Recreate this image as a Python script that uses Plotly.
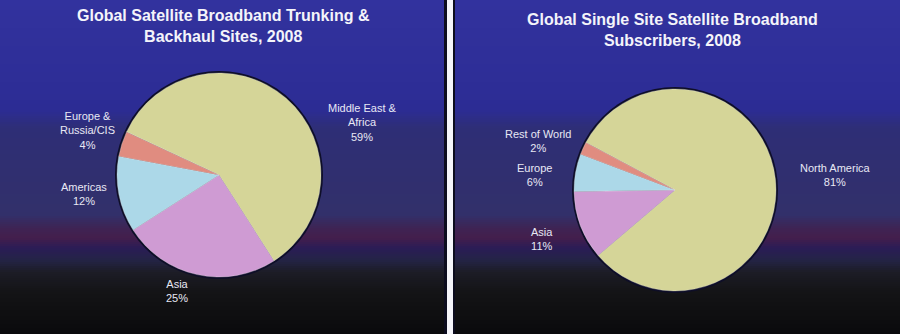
import plotly.graph_objects as go

# ---------------- data ----------------
left_title = "Global Satellite Broadband Trunking &<br>Backhaul Sites, 2008"
left_labels = ["Middle East & Africa", "Asia", "Americas", "Europe & Russia/CIS"]
left_display = ["Middle East &<br>Africa", "Asia", "Americas", "Europe &<br>Russia/CIS"]
left_values = [59, 25, 12, 4]

right_title = "Global Single Site Satellite Broadband<br>Subscribers, 2008"
right_labels = ["North America", "Asia", "Europe", "Rest of World"]
right_display = ["North America", "Asia", "Europe", "Rest of World"]
right_values = [81, 11, 6, 2]

# ---------------- styles ----------------
W, H = 900, 334
colors_left = ["#d5d598", "#cf9bd3", "#acd8e8", "#e08c80"]
colors_right = ["#d5d598", "#cf9bd3", "#acd8e8", "#e08c80"]
label_font = dict(family="Liberation Sans, Arial", size=11, color="#e8e8f4")
title_font = dict(family="Liberation Sans, Arial", size=16, color="#f4f4fa")


def px_x(x):
    return x / W


def px_y(y):
    return 1 - y / H


fig = go.Figure()

# left pie (center ~ (219,175), r ~ 102)
lcx, lcy, lr = 219, 175, 102
fig.add_trace(go.Pie(
    labels=left_labels, values=left_values, sort=False, direction="clockwise",
    rotation=-65, textinfo="none", hoverinfo="label+percent",
    marker=dict(colors=colors_left, line=dict(color="rgba(230,230,230,0.5)", width=0.6)),
    domain=dict(x=[px_x(lcx - lr), px_x(lcx + lr)], y=[px_y(lcy + lr), px_y(lcy - lr)]),
    showlegend=False,
))

# right pie (center ~ (675,190), r ~ 101)
rcx, rcy, rr = 675, 190, 101
fig.add_trace(go.Pie(
    labels=right_labels, values=right_values, sort=False, direction="clockwise",
    rotation=-62, textinfo="none", hoverinfo="label+percent",
    marker=dict(colors=colors_right, line=dict(color="rgba(230,230,230,0.5)", width=0.6)),
    domain=dict(x=[px_x(rcx - rr), px_x(rcx + rr)], y=[px_y(rcy + rr), px_y(rcy - rr)]),
    showlegend=False,
))

# ---------------- background gradient stripes ----------------
stops = [
    (0, (50, 50, 158)),
    (110, (44, 44, 148)),
    (128, (46, 46, 118)),
    (215, (50, 48, 106)),
    (228, (62, 36, 84)),
    (238, (68, 30, 76)),
    (248, (42, 28, 86)),
    (260, (36, 36, 70)),
    (272, (28, 28, 38)),
    (292, (20, 20, 22)),
    (334, (10, 10, 12)),
]


def color_at(y):
    for (y0, c0), (y1, c1) in zip(stops[:-1], stops[1:]):
        if y0 <= y <= y1:
            t = (y - y0) / (y1 - y0) if y1 > y0 else 0
            return "rgb(%d,%d,%d)" % tuple(round(a + (b - a) * t) for a, b in zip(c0, c1))
    return "rgb(10,10,12)"


shapes = []
step = 2
for y in range(0, H, step):
    shapes.append(dict(type="rect", xref="paper", yref="paper", layer="below",
                       x0=0, x1=1, y0=px_y(y + step), y1=px_y(y),
                       line=dict(width=0), fillcolor=color_at(y + step / 2)))

# dark outline circles behind pies
for cx, cy, r in [(lcx, lcy, lr), (rcx, rcy, rr)]:
    shapes.append(dict(type="circle", xref="paper", yref="paper", layer="below",
                       x0=px_x(cx - r - 2), x1=px_x(cx + r + 2),
                       y0=px_y(cy + r + 2), y1=px_y(cy - r - 2),
                       line=dict(width=0), fillcolor="rgb(14,14,40)"))

# separator between panels
shapes.append(dict(type="rect", xref="paper", yref="paper", layer="above",
                   x0=px_x(444), x1=px_x(455), y0=0, y1=1,
                   line=dict(width=0), fillcolor="rgb(12,12,30)"))
shapes.append(dict(type="rect", xref="paper", yref="paper", layer="above",
                   x0=px_x(447), x1=px_x(453), y0=0, y1=1,
                   line=dict(width=0), fillcolor="rgb(245,245,250)"))

# ---------------- annotations ----------------
annotations = [
    dict(text="<b>%s</b>" % left_title, x=px_x(223), y=px_y(26), xref="paper", yref="paper",
         showarrow=False, font=title_font, xanchor="center", yanchor="middle", align="center"),
    dict(text="<b>%s</b>" % right_title, x=px_x(672), y=px_y(30), xref="paper", yref="paper",
         showarrow=False, font=title_font, xanchor="center", yanchor="middle", align="center"),
]

left_pos = [(362, 122), (177, 291), (84, 194), (87, 130)]
right_pos = [(835, 175), (542, 239), (534, 175), (538, 141)]

for disp, val, (x, y) in zip(left_display, left_values, left_pos):
    annotations.append(dict(text="%s<br>%d%%" % (disp, val), x=px_x(x), y=px_y(y),
                            xref="paper", yref="paper", showarrow=False, font=label_font,
                            xanchor="center", yanchor="middle", align="center"))
for disp, val, (x, y) in zip(right_display, right_values, right_pos):
    annotations.append(dict(text="%s<br>%d%%" % (disp, val), x=px_x(x), y=px_y(y),
                            xref="paper", yref="paper", showarrow=False, font=label_font,
                            xanchor="center", yanchor="middle", align="center"))

fig.update_layout(
    width=W, height=H,
    margin=dict(l=0, r=0, t=0, b=0),
    paper_bgcolor="rgb(10,10,12)",
    plot_bgcolor="rgba(0,0,0,0)",
    shapes=shapes,
    annotations=annotations,
)

fig.write_html("out.html")
